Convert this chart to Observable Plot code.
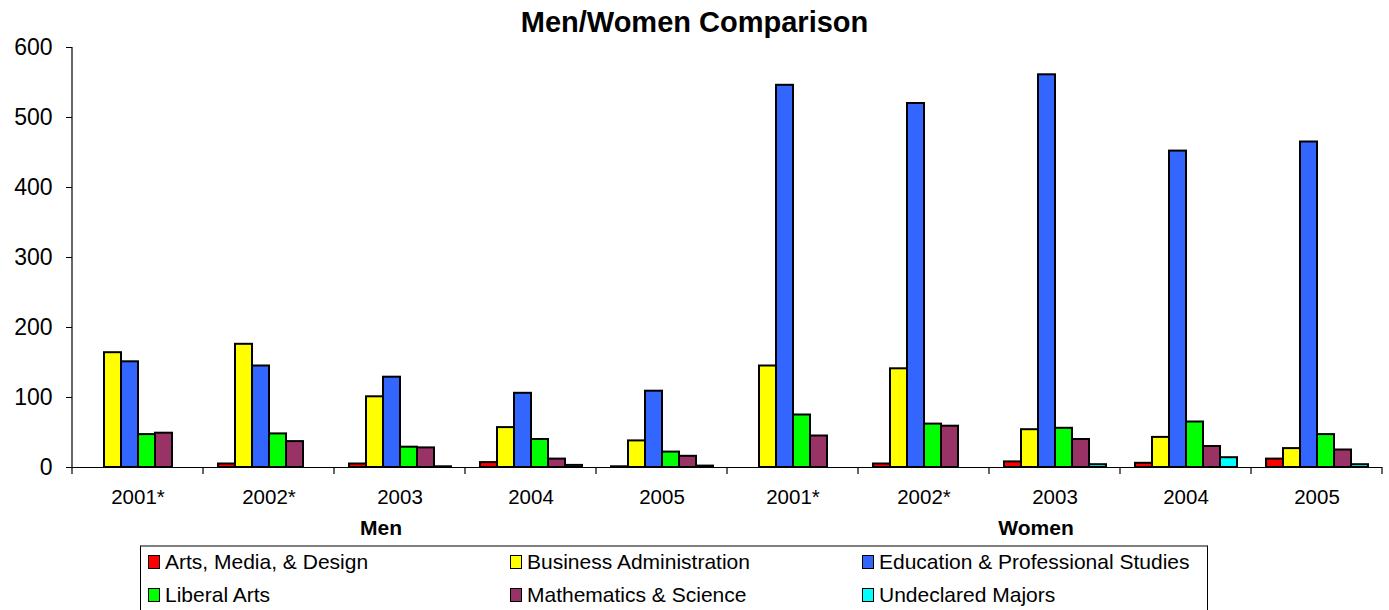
<!DOCTYPE html>
<html>
<head>
<meta charset="utf-8">
<script src="https://cdn.jsdelivr.net/npm/d3@7"></script>
<script src="https://cdn.jsdelivr.net/npm/@observablehq/plot@0.6"></script>
<style>
  html, body { margin: 0; padding: 0; background: #fff; }
  body { width: 1389px; height: 610px; overflow: hidden; font-family: "Liberation Sans", Arial, sans-serif; color: #000; }
  #title { height: 27px; box-sizing: border-box; padding-top: 8px; text-align: center; font-weight: bold; font-size: 29px; line-height: 29px; overflow: visible; white-space: nowrap; }
  #legend { position: relative; margin-left: 140px; width: 1068px; height: 70px; box-sizing: border-box; border: 1px solid #000; border-top: 2px solid #808080; }
  .item { position: absolute; display: flex; align-items: center; font-size: 21px; white-space: nowrap; }
  .sw { width: 10px; height: 12px; border: 1.5px solid #000; margin-right: 5px; box-sizing: content-box; }
</style>
</head>
<body>
<div id="title">Men/Women Comparison</div>
<div id="chart"></div>
<div id="legend"></div>
<script>
// ---- data ----
const genders = ["Men", "Women"];
const years = ["2001*", "2002*", "2003", "2004", "2005"];
const categories = [
  "Arts, Media, & Design",
  "Business Administration",
  "Education & Professional Studies",
  "Liberal Arts",
  "Mathematics & Science",
  "Undeclared Majors"
];
const colors = ["#FF0000", "#FFFF00", "#3366FF", "#00FF00", "#993366", "#00FFFF"];

// values per category, by year (2001*..2005)
const menArts      = [null, 5, 5, 7, 1];
const menBusiness  = [164, 176, 101, 57, 38];
const menEducation = [151, 145, 129, 106, 109];
const menLiberal   = [47, 48, 29, 40, 22];
const menMath      = [49, 37, 28, 12, 16];
const menUndecl    = [null, null, 1, 3, 2];

const womenArts      = [null, 5, 8, 6, 12];
const womenBusiness  = [145, 141, 54, 43, 27];
const womenEducation = [546, 520, 561, 452, 465];
const womenLiberal   = [75, 62, 56, 65, 47];
const womenMath      = [45, 59, 40, 30, 25];
const womenUndecl    = [null, null, 4, 14, 4];

const yTicks = [0, 100, 200, 300, 400, 500, 600];

// ---- build table ----
const series = {
  Men: [menArts, menBusiness, menEducation, menLiberal, menMath, menUndecl],
  Women: [womenArts, womenBusiness, womenEducation, womenLiberal, womenMath, womenUndecl]
};
const groups = [];
const rows = [];
for (const g of genders) {
  years.forEach((yr, yi) => {
    const key = g + "|" + yr;
    groups.push(key);
    categories.forEach((c, ci) => {
      const v = series[g][ci][yi];
      if (v != null) rows.push({group: key, cat: c, value: v});
    });
  });
}
const genderLabels = genders.map(g => ({group: g + "|2003", label: g}));

const chart = Plot.plot({
  width: 1389,
  height: 518,
  marginTop: 20,
  marginLeft: 69,
  marginRight: 5,
  marginBottom: 78,
  style: {fontFamily: "'Liberation Sans', Arial, sans-serif", color: "#000", background: "#fff", overflow: "visible"},
  fx: {domain: groups, padding: 0},
  x: {domain: categories, paddingInner: 0, paddingOuter: 0.75, axis: null},
  y: {domain: [0, 600]},
  color: {domain: categories, range: colors},
  marks: [
    Plot.axisY({ticks: yTicks, tickSize: 6, tickPadding: 14, fontSize: 23, label: null}),
    Plot.axisFx({anchor: "bottom", tickSize: 0, tickPadding: 22, fontSize: 20.5, label: null,
                 tickFormat: d => d.split("|")[1]}),
    Plot.barY(rows, {fx: "group", x: "cat", y: "value", fill: "cat", stroke: "#000", strokeWidth: 2}),
    Plot.ruleY([0], {stroke: "#000", strokeWidth: 1.2}),
    Plot.text(genderLabels, {fx: "group", text: "label", frameAnchor: "bottom", dy: 67, dx: -19,
                             fontWeight: "bold", fontSize: 21})
  ]
});

// axis line and group separator ticks from the plot's own scales
const fxs = chart.scale("fx");
const ys = chart.scale("y");
const svg = d3.select(chart);
const y0 = ys.apply(0);
const y1 = ys.apply(yTicks[yTicks.length - 1]);
const bounds = groups.map(g => fxs.apply(g));
bounds.push(fxs.apply(groups[groups.length - 1]) + fxs.bandwidth);
const extra = svg.append("g").attr("stroke", "#000").attr("stroke-width", 1.2);
extra.append("line").attr("x1", bounds[0]).attr("x2", bounds[0]).attr("y1", y1).attr("y2", y0);
bounds.forEach(b => {
  extra.append("line").attr("x1", b).attr("x2", b).attr("y1", y0).attr("y2", y0 + 7);
});

document.getElementById("chart").appendChild(chart);

// legend
const legend = document.getElementById("legend");
const colLeft = [7, 369, 721];
const rowTop = [3, 36];
categories.forEach((c, i) => {
  const d = document.createElement("div");
  d.className = "item";
  d.style.left = colLeft[i % 3] + "px";
  d.style.top = rowTop[Math.floor(i / 3)] + "px";
  const sw = document.createElement("span");
  sw.className = "sw";
  sw.style.background = colors[i];
  d.appendChild(sw);
  d.appendChild(document.createTextNode(c));
  legend.appendChild(d);
});
</script>
</body>
</html>
